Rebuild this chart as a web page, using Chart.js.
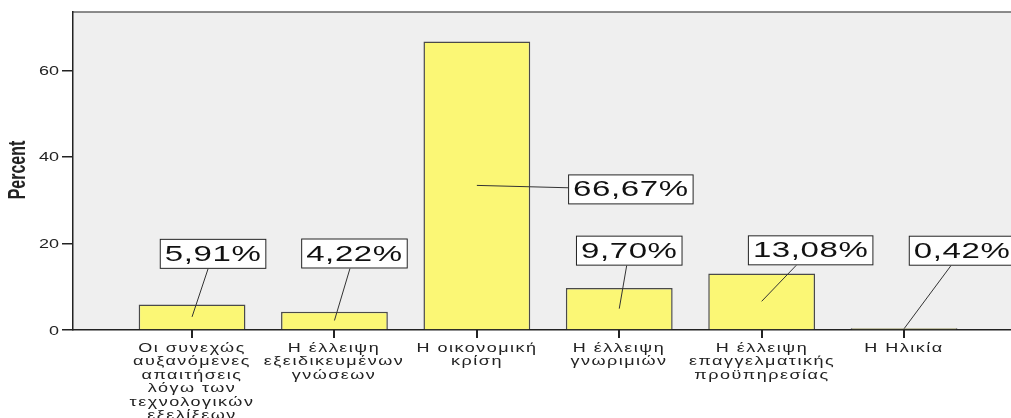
<!DOCTYPE html>
<html>
<head>
<meta charset="utf-8">
<script src="https://cdn.jsdelivr.net/npm/chart.js@4/dist/chart.umd.min.js"></script>
<style>
    html, body { margin: 0; padding: 0; background: #fff; }
    #wrap { width: 1011px; height: 418px; }
</style>
</head>
<body>
<div id="wrap"><canvas id="chart" width="1011" height="418"></canvas></div>
<script>
    // data
    const categories = [
        ['Οι συνεχώς', 'αυξανόμενες', 'απαιτήσεις', 'λόγω των', 'τεχνολογικών', 'εξελίξεων'],
        ['Η έλλειψη', 'εξειδικευμένων', 'γνώσεων'],
        ['Η οικονομική', 'κρίση'],
        ['Η έλλειψη', 'γνωριμιών'],
        ['Η έλλειψη', 'επαγγελματικής', 'προϋπηρεσίας'],
        ['Η Ηλικία']
    ];
    const percents = [5.91, 4.22, 66.67, 9.70, 13.08, 0.42];
    const yTicks = [0, 20, 40, 60];
    const yTitle = 'Percent';

    const STRETCH = 1.5; // the original picture is stretched sideways
    const FONT = '"Liberation Sans", Arial, sans-serif';

    // box offsets from the bar's mid point (pixels)
    const labelOffsets = [[21, -63], [20, -67], [154, 4], [10, -58], [49, -51], [58, -78]];

    function wideText(ctx, text, x, y, align) {
        ctx.save();
        ctx.translate(x, y);
        ctx.scale(STRETCH, 1);
        ctx.textAlign = align || 'center';
        ctx.fillText(text, 0, 0);
        ctx.restore();
    }

    const plotBackground = {
        id: 'plotBackground',
        beforeDraw(chart) {
            const { ctx, chartArea: a } = chart;
            ctx.save();
            ctx.fillStyle = '#efefef';
            ctx.fillRect(a.left, a.top, a.right - a.left, a.bottom - a.top);
            ctx.strokeStyle = '#666';
            ctx.lineWidth = 1.5;
            ctx.beginPath();
            ctx.moveTo(a.left, a.top);
            ctx.lineTo(a.right, a.top);
            ctx.stroke();
            ctx.restore();
        }
    };

    const axisText = {
        id: 'axisText',
        afterDraw(chart) {
            const ctx = chart.ctx;
            const xs = chart.scales.x, ys = chart.scales.y;
            const bottom = chart.chartArea.bottom;
            ctx.save();
            ctx.fillStyle = '#222';
            ctx.textBaseline = 'alphabetic';

            // y tick labels
            ctx.font = '12px ' + FONT;
            yTicks.forEach(t => {
                wideText(ctx, String(t), 59, ys.getPixelForValue(t) + 4.5, 'right');
            });

            // x tick marks and category labels
            ctx.letterSpacing = '1px';
            categories.forEach((lines, i) => {
                const x = Math.round(xs.getPixelForValue(i));
                ctx.fillRect(x - 1, bottom, 2, 8);
                lines.forEach((line, j) => {
                    wideText(ctx, line, x, 352 + j * 13.4, 'center');
                });
            });
            ctx.letterSpacing = '0px';

            // y title
            ctx.font = 'bold 16px ' + FONT;
            ctx.translate(18, 170);
            ctx.scale(STRETCH, 1);
            ctx.rotate(-Math.PI / 2);
            ctx.textAlign = 'center';
            ctx.textBaseline = 'middle';
            ctx.fillText(yTitle, 0, 0);
            ctx.restore();
        }
    };

    const boxLabels = {
        id: 'boxLabels',
        afterDatasetsDraw(chart) {
            const ctx = chart.ctx;
            const bars = chart.getDatasetMeta(0).data;
            ctx.save();
            ctx.font = '22px ' + FONT;
            ctx.letterSpacing = '0.4px';
            bars.forEach((bar, i) => {
                const text = percents[i].toFixed(2).replace('.', ',') + '%';
                const ax = bar.x, ay = (bar.y + bar.base) / 2;
                const cx = ax + labelOffsets[i][0], cy = ay + labelOffsets[i][1];
                const w = ctx.measureText(text).width * STRETCH + 10;
                const h = 30;
                ctx.strokeStyle = '#333';
                ctx.lineWidth = 1;
                ctx.beginPath();
                ctx.moveTo(ax, ay);
                ctx.lineTo(cx, cy);
                ctx.stroke();
                ctx.fillStyle = '#fff';
                ctx.fillRect(cx - w / 2, cy - h / 2, w, h);
                ctx.strokeStyle = '#222';
                ctx.strokeRect(cx - w / 2 + 0.5, cy - h / 2 + 0.5, w - 1, h - 1);
                ctx.fillStyle = '#111';
                ctx.textBaseline = 'middle';
                wideText(ctx, text, cx, cy + 1, 'center');
            });
            ctx.restore();
        }
    };

    new Chart(document.getElementById('chart'), {
        type: 'bar',
        data: {
            datasets: [{
                data: percents.map((v, i) => ({ x: i, y: v })),
                backgroundColor: '#fbf775',
                borderColor: '#4a4a4a',
                borderWidth: 1.5,
                barPercentage: 0.75,
                categoryPercentage: 1
            }]
        },
        options: {
            responsive: false,
            animation: false,
            layout: { padding: { top: 12, right: 0, left: 0, bottom: 0 } },
            plugins: { legend: { display: false }, tooltip: { enabled: false } },
            scales: {
                x: {
                    type: 'linear',
                    offset: false,
                    min: -0.836,
                    max: 5.751,
                    afterBuildTicks: s => { s.ticks = categories.map((_, i) => ({ value: i })); },
                    afterFit: s => { s.height = 88; },
                    ticks: { display: false },
                    grid: { display: false },
                    border: { color: '#222', width: 1.5 }
                },
                y: {
                    min: 0,
                    max: 73.5,
                    afterBuildTicks: s => { s.ticks = yTicks.map(v => ({ value: v })); },
                    afterFit: s => { s.width = 73; },
                    ticks: { display: false },
                    grid: { drawOnChartArea: false, drawTicks: true, tickLength: 11, color: '#222', lineWidth: 1.5 },
                    border: { color: '#222', width: 1.5 }
                }
            }
        },
        plugins: [plotBackground, axisText, boxLabels]
    });
</script>
</body>
</html>
